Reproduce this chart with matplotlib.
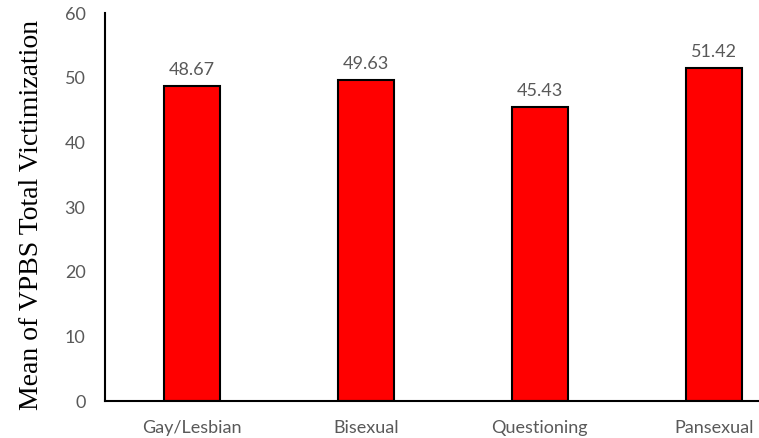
import matplotlib.pyplot as plt

# Data
groups = ["Gay/Lesbian", "Bisexual", "Questioning", "Pansexual"]
means = [48.67, 49.63, 45.43, 51.42]
yticks = [0, 10, 20, 30, 40, 50, 60]

fig = plt.figure(figsize=(7.59, 4.38), dpi=100)
ax = fig.add_axes([105 / 759, 37 / 438, (759 - 105) / 759, 388 / 438])

x = range(len(groups))
bars = ax.bar(x, means, width=0.32, color="#ff0000", edgecolor="black", linewidth=1.5)

for b, v in zip(bars, means):
    ax.annotate(f"{v:.2f}", (b.get_x() + b.get_width() / 2, v),
                xytext=(0, 6), textcoords="offset points",
                ha="center", va="bottom", fontsize=13, color="#595959",
                family="Lato")

ax.set_xlim(-0.5, 3.26)
ax.set_ylim(0, 60)
ax.set_yticks(yticks)
ax.set_xticks(list(x))
ax.set_xticklabels(groups)
for lab in ax.get_xticklabels() + ax.get_yticklabels():
    lab.set_family("Lato")
    lab.set_fontsize(13)
    lab.set_color("#595959")
ax.tick_params(axis="both", length=0)
ax.tick_params(axis="x", pad=14)
ax.tick_params(axis="y", pad=14)

for s in ["top", "right"]:
    ax.spines[s].set_visible(False)
for s in ["left", "bottom"]:
    ax.spines[s].set_linewidth(1.5)
    ax.spines[s].set_color("black")

ax.set_ylabel("Mean of VPBS Total Victimization", family="Liberation Serif",
              fontsize=20, color="black")
ax.yaxis.set_label_coords(-0.094, 0.48)

fig.savefig("out.png", dpi=100)
